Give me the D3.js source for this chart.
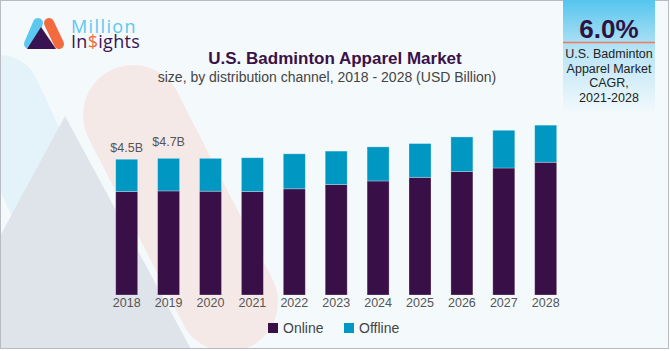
<!DOCTYPE html>
<html>
<head>
<meta charset="utf-8" />
<script src="https://d3js.org/d3.v7.min.js"></script>
<style>
  body { margin: 0; background: #fff; }
  svg { display: block; font-family: "Liberation Sans", Arial, sans-serif; }
</style>
</head>
<body>
<div id="visu"></div>
<script>
// Chart dimensions
const largeur = 670;
const hauteur = 351;

// Data (USD Billion)
const annees = ["2018", "2019", "2020", "2021", "2022", "2023", "2024", "2025", "2026", "2027", "2028"];
const online = [3.43, 3.45, 3.44, 3.43, 3.52, 3.66, 3.78, 3.90, 4.09, 4.21, 4.40];
const offline = [1.07, 1.08, 1.09, 1.12, 1.16, 1.11, 1.13, 1.12, 1.15, 1.25, 1.23];
const series = ["Online", "Offline"];
const couleurs = ["#380f46", "#0097c2"];
const etiquettes = [{annee: "2018", texte: "$4.5B", valeur: 4.5}, {annee: "2019", texte: "$4.7B", valeur: 4.7}];
const cagr = "6.0%";
const cagrLignes = ["U.S. Badminton", "Apparel Market", "CAGR,", "2021-2028"];

const svg = d3.select('#visu').append('svg')
  .attr('width', largeur)
  .attr('height', hauteur);

// Background and decoration
const defs = svg.append('defs');
defs.append('clipPath').attr('id', 'cadre')
  .append('rect').attr('x', 0).attr('y', 0).attr('width', 669).attr('height', 349);
const grad = defs.append('linearGradient').attr('id', 'boite')
  .attr('x1', 0).attr('y1', 0).attr('x2', 0).attr('y2', 1);
grad.append('stop').attr('offset', 0).attr('stop-color', '#55c5ee');
grad.append('stop').attr('offset', 0.45).attr('stop-color', '#b9e4f6');
grad.append('stop').attr('offset', 1).attr('stop-color', '#f2f9fc');

const deco = svg.append('g').attr('clip-path', 'url(#cadre)');
deco.append('rect').attr('width', 669).attr('height', 349).attr('fill', '#f4f9fc');
deco.append('line') // light blue band
  .attr('x1', 0).attr('y1', 95).attr('x2', 90).attr('y2', 290)
  .attr('stroke', '#e4f2fa').attr('stroke-width', 80).attr('stroke-linecap', 'round');
deco.append('path') // grey triangle
  .attr('d', 'M65,116 L-62,351 L192,351 Z')
  .attr('fill', '#dfe3ea');
deco.append('line') // pink band
  .attr('x1', 133).attr('y1', 115).attr('x2', 228).attr('y2', 302)
  .attr('stroke', '#f5e9e8').attr('stroke-width', 100).attr('stroke-linecap', 'round');

svg.append('rect')
  .attr('x', 0.5).attr('y', 0.5).attr('width', 668).attr('height', 348)
  .attr('fill', 'none').attr('stroke', '#b8bcc2');

// Logo
const logo = svg.append('g');
logo.append('line').attr('x1', 29).attr('y1', 44).attr('x2', 38).attr('y2', 23)
  .attr('stroke', '#5bc8f0').attr('stroke-width', 10).attr('stroke-linecap', 'round');
logo.append('line').attr('x1', 49).attr('y1', 23).attr('x2', 59).attr('y2', 44)
  .attr('stroke', '#f26a3d').attr('stroke-width', 10).attr('stroke-linecap', 'round');
logo.append('path').attr('d', 'M41,27 L27,49 L56,49 Z').attr('fill', '#3a1450');
const nom = logo.append('text').attr('x', 71).attr('y', 33)
  .style('font-family', '"Open Sans", sans-serif').style('font-size', '18px');
nom.append('tspan').attr('fill', '#5bc8f0').style('letter-spacing', '1.4px').text('Million');
nom.append('tspan').attr('x', 71).attr('dy', 15).attr('fill', '#3a1450')
  .style('letter-spacing', '0.3px').text('In');
nom.append('tspan').attr('fill', '#f26a3d').style('letter-spacing', '0.3px').text('$');
nom.append('tspan').attr('fill', '#3a1450').style('letter-spacing', '0.3px').text('ights');

// Titles
svg.append('text').attr('x', 335).attr('y', 64).attr('text-anchor', 'middle')
  .style('font-size', '17px').style('font-weight', 'bold').attr('fill', '#3a1248')
  .text('U.S. Badminton Apparel Market');
svg.append('text').attr('x', 327).attr('y', 82).attr('text-anchor', 'middle')
  .style('font-size', '14px').attr('fill', '#444')
  .text('size, by distribution channel, 2018 - 2028 (USD Billion)');

// CAGR box
svg.append('rect').attr('x', 563).attr('y', 0).attr('width', 92).attr('height', 112)
  .attr('fill', 'url(#boite)');
svg.append('line').attr('x1', 563).attr('x2', 655).attr('y1', 42.5).attr('y2', 42.5)
  .attr('stroke', '#f07a55').attr('stroke-width', 1.5);
svg.append('text').attr('x', 609).attr('y', 38).attr('text-anchor', 'middle')
  .style('font-size', '26px').style('font-weight', 'bold').attr('fill', '#2e1240')
  .text(cagr);
svg.append('g').selectAll('text').data(cagrLignes).join('text')
  .attr('x', 609).attr('y', (d, i) => 58 + i * 14.7).attr('text-anchor', 'middle')
  .style('font-size', '12.5px').attr('fill', '#222')
  .text(d => d);

// Scales
const echelleX = d3.scaleBand().domain(annees).range([95.8, 576.6]).padding(0.475);
const echelleY = d3.scaleLinear().domain([0, 6]).range([295, 114]);

// Stacked bars
const table = annees.map((a, i) => ({annee: a, Online: online[i], Offline: offline[i]}));
const pile = d3.stack().keys(series)(table);

svg.append('g').selectAll('g').data(pile).join('g')
  .attr('fill', (d, i) => couleurs[i])
  .selectAll('rect').data(d => d).join('rect')
  .attr('x', d => echelleX(d.data.annee))
  .attr('y', d => echelleY(d[1]))
  .attr('width', echelleX.bandwidth())
  .attr('height', d => echelleY(d[0]) - echelleY(d[1]))
  .attr('stroke', '#ffffff').attr('stroke-opacity', 0.35).attr('stroke-width', 0.8);

// Value labels
svg.append('g').selectAll('text').data(etiquettes).join('text')
  .attr('x', d => echelleX(d.annee) + echelleX.bandwidth() / 2)
  .attr('y', d => echelleY(d.valeur) - 7)
  .attr('text-anchor', 'middle')
  .style('font-size', '12.5px').attr('fill', '#555')
  .text(d => d.texte);

// X axis
svg.append('g')
  .attr('transform', `translate(0, 295)`)
  .call(d3.axisBottom(echelleX).tickSize(0).tickPadding(3))
  .call(g => g.select('.domain').remove())
  .call(g => g.selectAll('text')
    .style('font-size', '12.5px')
    .style('font-family', '"Liberation Sans", Arial, sans-serif')
    .attr('fill', '#555'));

// Legend
const legende = svg.append('g').selectAll('g').data(series).join('g')
  .attr('transform', (d, i) => `translate(${[268, 344][i]}, 323)`);
legende.append('rect').attr('width', 10).attr('height', 10)
  .attr('fill', (d, i) => couleurs[i]);
legende.append('text').attr('x', 15).attr('y', 10)
  .style('font-size', '14px').attr('fill', '#444')
  .text(d => d);
</script>
</body>
</html>
